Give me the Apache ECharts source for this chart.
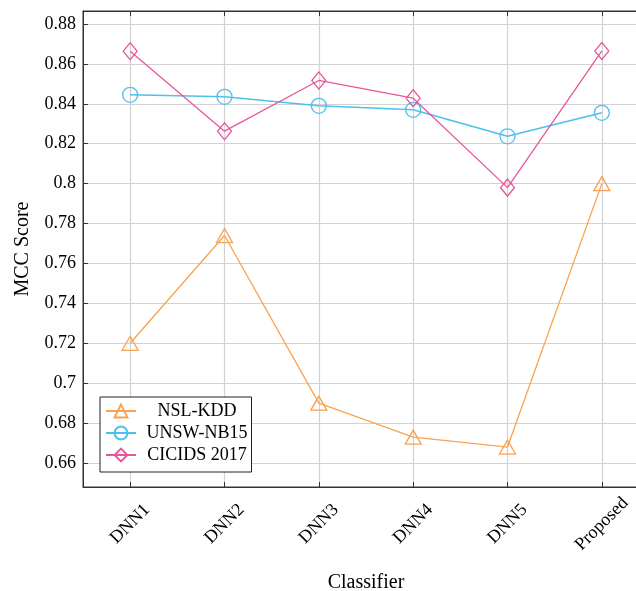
<!DOCTYPE html>
<html><head><meta charset="utf-8">
<script src="https://cdn.jsdelivr.net/npm/echarts@6/dist/echarts.min.js"></script>
<style>html,body{margin:0;padding:0;background:#fff;overflow:hidden}#c{width:650px;height:591px}</style>
</head><body><div id="c"></div>
<script>
const categories = ['DNN1', 'DNN2', 'DNN3', 'DNN4', 'DNN5', 'Proposed'];
const seriesNames = ['NSL-KDD', 'UNSW-NB15', 'CICIDS 2017'];
const nslKdd = [0.720, 0.774, 0.690, 0.673, 0.668, 0.800];
const unswNb15 = [0.8445, 0.8435, 0.839, 0.837, 0.8237, 0.8355];
const cicids2017 = [0.8663, 0.8263, 0.8517, 0.8428, 0.798, 0.8665];

const FONT = "'Liberation Serif', 'Times New Roman', serif";
const chart = echarts.init(document.getElementById('c'), null, {renderer: 'canvas'});
const axisDark = '#333';
const gridGrey = '#d2d2d2';
const cOrange = '#F9A250', cBlue = '#4DC0EE', cPink = '#E8559C';

chart.setOption({
  animation: false,
  backgroundColor: '#fff',
  grid: {left: 83, top: 11, width: 566, height: 476, outerBoundsMode: 'none', containLabel: false,
         show: true, borderColor: axisDark, borderWidth: 1, backgroundColor: 'transparent'},
  legend: {
    orient: 'vertical', left: 100, top: 397,
    backgroundColor: '#fff', borderColor: '#222', borderWidth: 1,
    padding: [5, 4, 8, 5], itemGap: 4, itemWidth: 30, itemHeight: 16,
    formatter: '{t|{name}}',
    textStyle: {fontFamily: FONT, fontSize: 18, color: '#000',
      rich: {t: {fontFamily: FONT, fontSize: 18, color: '#000', width: 112, align: 'center'}}},
    data: seriesNames
  },
  xAxis: [{
    type: 'category', data: categories, position: 'bottom',
    name: 'Classifier', nameLocation: 'middle', nameGap: 86,
    nameTextStyle: {fontFamily: FONT, fontSize: 20, color: '#000'},
    axisLine: {show: true, lineStyle: {color: axisDark, width: 1}},
    axisTick: {show: true, inside: true, alignWithLabel: true, length: 5, lineStyle: {color: axisDark}},
    axisLabel: {rotate: 45, align: 'center', verticalAlign: 'middle', margin: 37, fontFamily: FONT, fontSize: 18, color: '#000'},
    splitLine: {show: true, alignWithLabel: true, lineStyle: {color: gridGrey, width: 1.2}}
  }, {
    type: 'category', data: categories, position: 'top',
    axisLine: {show: true, lineStyle: {color: axisDark, width: 1}},
    axisTick: {show: true, inside: true, alignWithLabel: true, length: 5, lineStyle: {color: axisDark}},
    axisLabel: {show: false}, splitLine: {show: false}
  }],
  yAxis: {
    type: 'value', min: 0.648, max: 0.8865, minInterval: 0.02, maxInterval: 0.02, splitNumber: 12,
    name: 'MCC Score', nameLocation: 'middle', nameGap: 50,
    nameTextStyle: {fontFamily: FONT, fontSize: 20, color: '#000'},
    axisLine: {show: true, lineStyle: {color: axisDark, width: 1}},
    axisTick: {show: true, inside: true, length: 5, lineStyle: {color: axisDark}},
    axisLabel: {showMinLabel: false, showMaxLabel: false, margin: 7, fontFamily: FONT, fontSize: 18, color: '#000'},
    splitLine: {show: true, lineStyle: {color: gridGrey, width: 1.2}}
  },
  series: [
    {name: seriesNames[0], type: 'line', data: nslKdd, symbol: 'triangle', symbolSize: [16, 14],
     lineStyle: {color: cOrange, width: 1.3}, itemStyle: {color: 'rgba(0,0,0,0)', borderColor: cOrange, borderWidth: 1.3}},
    {name: seriesNames[1], type: 'line', data: unswNb15, symbol: 'circle', symbolSize: 15,
     lineStyle: {color: cBlue, width: 1.6}, itemStyle: {color: 'rgba(0,0,0,0)', borderColor: cBlue, borderWidth: 1.3}},
    {name: seriesNames[2], type: 'line', data: cicids2017, symbol: 'diamond', symbolSize: [14, 17],
     lineStyle: {color: cPink, width: 1.3}, itemStyle: {color: 'rgba(0,0,0,0)', borderColor: cPink, borderWidth: 1.3}}
  ]
});
</script></body></html>
